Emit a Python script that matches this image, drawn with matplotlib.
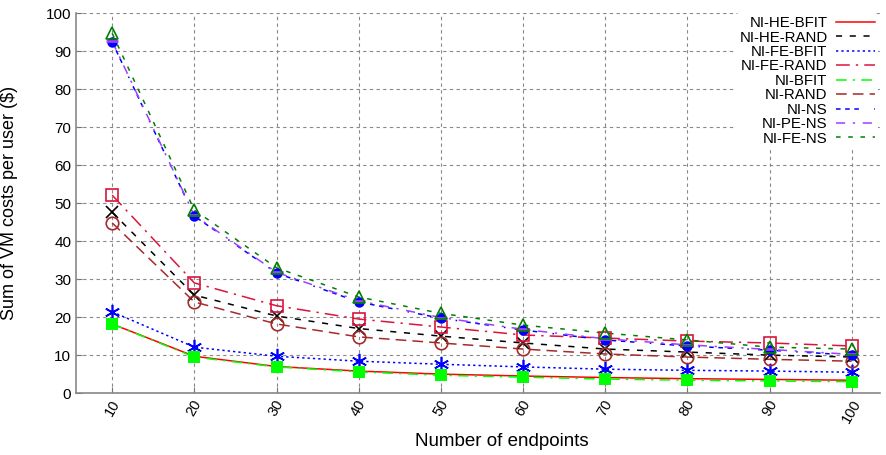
import numpy as np
import matplotlib
matplotlib.use('Agg')
import matplotlib.pyplot as plt

plt.rcParams['font.family'] = ['Liberation Sans', 'DejaVu Sans']

endpoints = [10, 20, 30, 40, 50, 60, 70, 80, 90, 100]

ni_he_bfit = [18.2, 9.7, 7.0, 5.8, 5.0, 4.5, 4.1, 3.8, 3.6, 3.4]
ni_he_rand = [47.6, 25.8, 20.3, 17.0, 15.0, 13.2, 11.6, 10.8, 10.0, 9.5]
ni_fe_bfit = [21.4, 12.1, 9.7, 8.4, 7.6, 6.9, 6.3, 6.0, 5.8, 5.5]
ni_fe_rand = [52.1, 29.0, 23.0, 19.5, 17.4, 15.3, 14.5, 13.7, 13.2, 12.4]
ni_bfit = [18.2, 9.5, 6.9, 5.6, 4.7, 4.2, 3.7, 3.4, 3.2, 3.0]
ni_rand = [44.8, 24.0, 18.2, 14.8, 13.2, 11.6, 10.3, 9.5, 8.9, 8.4]
ni_ns = [92.4, 46.6, 31.6, 24.0, 19.7, 16.6, 14.0, 12.4, 11.3, 10.0]
ni_pe_ns = [92.6, 46.8, 31.8, 24.3, 19.9, 16.8, 14.3, 12.7, 11.5, 10.2]
ni_fe_ns = [94.7, 48.2, 33.0, 25.3, 21.0, 17.9, 15.8, 14.0, 12.1, 11.6]

fig = plt.figure(figsize=(8.87, 4.55), dpi=100)
ax = fig.add_axes([0.0857, 0.136, 0.906, 0.835])

# (label, data, color, linestyle, marker, marker kwargs)
series = [
    ('NI-HE-BFIT', ni_he_bfit, '#ff0000', '-', '+', dict(ms=7, mew=1.2)),
    ('NI-HE-RAND', ni_he_rand, '#000000', (0, (4, 5)), 'x', dict(ms=8, mew=1.2)),
    ('NI-FE-BFIT', ni_fe_bfit, '#0000ff', (0, (1.5, 2)), (6, 2, 0), dict(ms=11, mew=1.2)),
    ('NI-FE-RAND', ni_fe_rand, '#dc143c', (0, (9, 4, 1.5, 4)), 's', dict(ms=9, mew=1.2, mfc='none')),
    ('NI-BFIT', ni_bfit, '#00ff00', (0, (7, 4, 1.5, 4)), 's', dict(ms=9, mew=0)),
    ('NI-RAND', ni_rand, '#a52a2a', (0, (7, 4)), 'o', dict(ms=9, mew=1.2, mfc='none')),
    ('NI-NS', ni_ns, '#0000ff', (0, (3, 3, 3, 3, 3, 10, 1, 6)), 'o', dict(ms=7.5, mew=0)),
    ('NI-PE-NS', ni_pe_ns, '#9f3fff', (0, (6, 5, 1.5, 5)), '_', dict(ms=8, mew=2)),
    ('NI-FE-NS', ni_fe_ns, '#008000', (0, (3, 5)), '^', dict(ms=9, mew=1.2, mfc='none')),
]

zorders = {'NI-HE-BFIT': 3, 'NI-BFIT': 4}
for label, data, color, ls, marker, mkw in series:
    ax.plot(endpoints, data, color=color, linestyle=ls, lw=1.1, label=label,
            zorder=zorders.get(label, 3))
    ax.plot(endpoints, data, linestyle='none', marker=marker, color=color,
            zorder=zorders.get(label, 3) + 2, **mkw)

ax.set_xlim(5.6, 103.4)
ax.set_ylim(0, 100)
ax.set_xticks(endpoints)
ax.set_xticklabels([str(e) for e in endpoints], rotation=60, fontsize=10.5)
ax.set_yticks(np.arange(0, 101, 10))
ax.tick_params(axis='y', labelsize=11, direction='in', color='#777777', length=4)
ax.tick_params(axis='x', direction='in', color='#777777', length=4, pad=3)

ax.grid(True, color='#888888', linestyle=(0, (3, 3)), lw=0.8)
for side in ['top', 'right']:
    ax.spines[side].set_visible(False)
for side in ['left', 'bottom']:
    ax.spines[side].set_color('#888888')
    ax.spines[side].set_linewidth(1.2)

ax.set_xlabel('Number of endpoints', fontsize=13.5)
ax.xaxis.set_label_coords(0.53, -0.105)
ax.set_ylabel('Sum of VM costs per user ($)', fontsize=13)
ax.yaxis.set_label_coords(-0.072, 0.5)

# labels on the left of the line samples, right-aligned like gnuplot
leg = ax.legend(loc='upper right', frameon=True, fontsize=10.8, markerfirst=False,
                handlelength=2.6, labelspacing=0.03, borderpad=0.2,
                handletextpad=0.55, bbox_to_anchor=(1.007, 1.02))
leg.get_frame().set_edgecolor('none')
leg.get_frame().set_facecolor('white')
leg.get_frame().set_alpha(1.0)

fig.savefig('out.png', dpi=100)
